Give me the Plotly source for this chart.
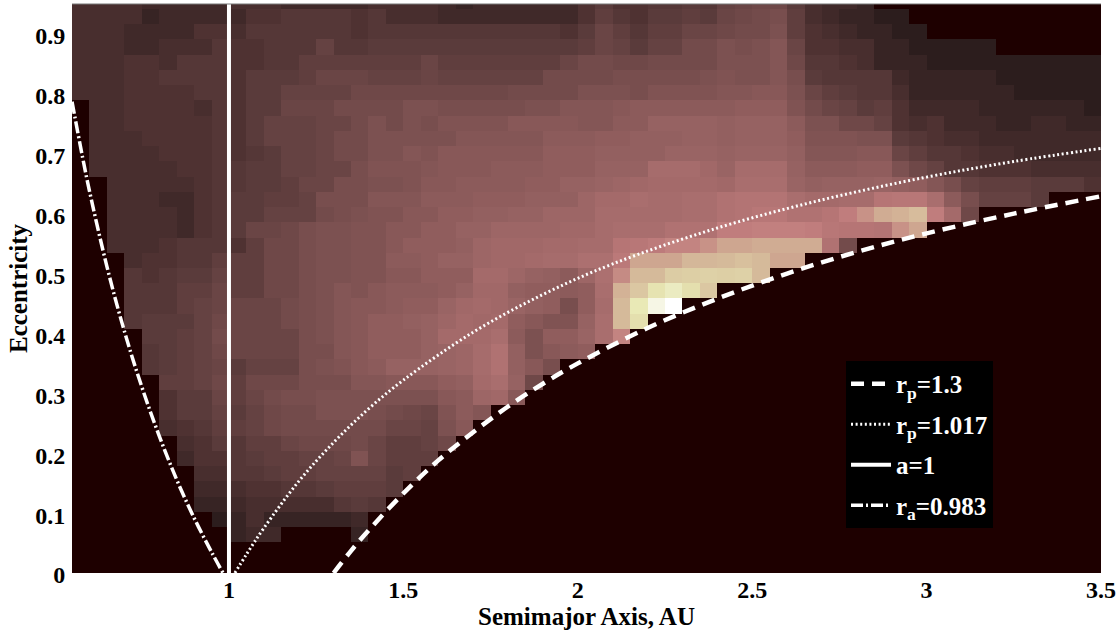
import numpy as np
import plotly.graph_objects as go

# column and row steps of the grid
A_START, A_STEP, N_COLS = 0.55, 0.05, 59
E_STEP, N_ROWS = 0.02545, 38

# cell levels (0-100), one list per row, top row first; trailing zeros left out
R37 = [5,5,5,5,4,4,4,4,4,5, 5,5,4,4,4,4,4,5,5,5, 5,4,3,4,4,4,4,4,4,6, 8,6,6,7,7,8,7,10,11,12, 12,8,5,4,4,3]
R36 = [5,5,5,5,3,4,4,4,4,4, 6,6,7,7,7,7,6,7,5,5, 5,4,4,4,4,4,4,4,4,6, 9,7,6,8,8,9,8,11,12,13, 14,9,5,4,3,3,2,2]
R35 = [5,5,5,4,4,4,4,6,6,5, 7,7,7,7,7,7,6,7,7,7, 7,7,7,7,7,7,7,7,6,8, 11,9,7,9,9,11,11,12,13,13, 15,9,6,5,4,3,3,2,2]
R34 = [5,5,5,4,4,5,5,5,7,6, 6,7,7,7,10,7,7,8,8,8, 8,8,8,8,8,8,8,8,8,9, 11,10,8,10,10,13,13,15,14,15, 17,11,6,6,5,5,3,3,2,2, 2,2,2]
R33 = [5,5,5,6,6,5,7,7,7,6, 6,7,7,9,9,9,9,9,9,9, 11,9,9,9,9,9,9,9,11,13, 13,12,12,13,13,13,13,15,15,15, 17,12,7,7,6,5,3,3,3,2, 2,2,2,2,2,2,2,2,2]
R32 = [5,5,5,6,6,7,7,7,7,6, 8,8,8,9,11,11,11,10,10,10, 11,10,10,10,10,10,10,13,13,13, 13,14,14,14,14,14,15,16,15,15, 17,14,8,7,7,7,7,4,3,3, 3,3,3,2,2,2,2,2,2]
R31 = [5,5,5,6,6,6,6,7,7,6, 8,8,10,10,10,10,12,12,12,12, 12,12,12,12,12,13,13,13,13,15, 15,15,14,16,16,16,16,17,17,18, 18,15,11,9,8,7,7,5,3,3, 3,3,3,3,2,2,2,2,2]
R30 = [0,5,5,6,6,6,6,5,7,6, 8,8,11,11,11,13,13,13,13,15, 15,14,14,14,14,14,15,15,17,17, 17,18,19,19,19,19,19,19,20,20, 20,16,13,11,10,8,9,6,4,4, 4,4,3,3,3,3,3,3,2]
R29 = [0,5,5,6,6,6,6,6,7,6, 8,10,10,10,11,11,13,15,13,15, 14,16,16,16,16,18,18,18,18,17, 17,19,19,22,22,22,22,21,22,22, 22,19,15,15,12,12,10,6,5,6, 4,4,4,3,3,4,4,3,3]
R28 = [0,5,5,5,6,6,6,6,7,6, 8,10,10,10,11,13,13,15,15,15, 15,15,17,17,17,17,17,19,19,19, 20,20,21,21,21,22,22,21,22,22, 22,20,16,16,16,15,15,8,7,6, 5,5,4,4,4,4,4,4,4]
R27 = [0,5,5,5,5,6,6,6,7,6, 7,8,10,10,11,13,13,15,15,17, 16,18,18,18,18,18,18,20,20,20, 21,21,21,21,23,23,23,22,23,23, 23,21,17,17,17,18,18,11,9,7, 7,6,5,5,4,4,4,4,4]
R26 = [0,5,5,5,5,5,6,6,7,7, 8,8,10,10,11,11,14,16,16,16, 17,18,18,18,19,19,19,20,20,20, 22,22,22,27,27,27,25,23,27,27, 27,22,19,19,19,20,20,15,12,10, 7,7,6,6,6,5,5,5,5]
R25 = [0,0,5,5,5,5,5,6,7,7, 8,8,9,11,11,14,14,15,15,16, 18,18,19,19,19,19,20,20,22,22, 23,24,25,26,26,26,26,25,28,28, 28,23,21,22,22,22,23,21,20,17, 14,10,9,9,9,8,8,8,6]
R24 = [0,0,5,5,5,4,4,6,7,8, 8,9,9,10,14,14,14,17,17,17, 19,19,19,20,20,20,21,21,21,24, 26,26,28,27,27,28,28,30,31,31, 31,28,26,26,27,27,32,33,33,28, 19,14,10,10,10,8]
R23 = [0,0,5,5,5,5,4,6,7,8, 8,10,10,10,13,14,15,16,16,18, 18,20,20,21,21,22,22,24,24,24, 27,27,27,27,27,28,28,30,31,33, 33,30,30,32,36,42,50,52,56,36, 26,12]
R22 = [0,0,5,5,5,5,4,6,7,8, 11,11,12,14,15,15,16,16,18,18, 20,20,22,22,24,24,24,24,25,25, 27,28,28,28,30,30,30,36,36,37, 37,37,36,33,32,32,31,42,48]
R21 = [0,0,5,5,5,6,7,7,7,6, 9,12,12,14,15,15,16,16,18,20, 20,20,21,24,25,25,25,26,26,27, 27,32,33,35,38,38,42,48,48,50, 50,50,50,30,13]
R20 = [0,0,0,5,6,6,7,7,9,9, 9,12,12,14,15,15,16,16,19,19, 20,22,22,24,25,25,26,27,27,29, 29,34,48,48,48,54,54,55,57,55, 48,48]
R19 = [0,0,0,7,6,7,8,8,10,9, 9,12,12,14,15,15,16,16,18,18, 20,20,20,26,26,24,22,21,19,24, 29,40,55,55,62,63,64,63,64,55]
R18 = [0,0,0,7,7,7,9,9,11,9, 9,12,12,14,15,17,16,18,19,19, 19,20,22,25,25,21,20,20,19,20, 28,52,60,72,78,70,60]
R17 = [0,0,0,7,7,7,9,10,11,11, 11,11,13,14,15,17,18,18,19,20, 20,23,25,26,25,23,21,20,14,20, 27,55,75,90,100]
R16 = [0,0,0,7,8,8,8,10,12,11, 11,11,13,14,15,17,18,20,20,21, 22,24,26,25,26,20,18,16,16,22, 28,55,70]
R15 = [0,0,0,0,8,8,9,10,13,11, 11,11,11,14,15,17,18,20,20,20, 22,26,26,26,28,19,15,20,20,23, 28,38]
R14 = [0,0,0,0,7,8,9,10,12,11, 11,11,11,14,14,17,18,20,20,20, 22,23,24,27,30,21,15,18,19,20]
R13 = [0,0,0,0,7,8,9,10,11,8, 10,10,10,14,15,16,18,19,22,22, 22,23,24,27,30,21,18,14]
R12 = [0,0,0,0,0,9,9,10,12,9, 12,12,12,14,14,14,17,17,18,18, 18,20,21,26,28,22,12]
R11 = [0,0,0,0,0,6,8,8,11,9, 11,13,14,14,15,15,15,15,15,15, 15,18,19,24,25,18]
R10 = [0,0,0,0,0,6,8,8,10,8, 10,12,13,13,15,15,15,14,13,12, 11,16,19,17]
R09 = [0,0,0,0,0,5,6,7,9,9, 10,12,13,13,13,13,13,13,11,11, 10,15,18]
R08 = [0,0,0,0,0,0,5,6,8,7, 9,9,11,12,12,12,13,11,9,9, 10,12]
R07 = [0,0,0,0,0,0,4,6,6,7, 8,9,9,10,10,11,16,11,9,9, 9]
R06 = [0,0,0,0,0,0,0,5,5,7, 7,8,9,9,10,10,10,10,8,9]
R05 = [0,0,0,0,0,0,0,4,4,5, 6,6,7,7,8,9,9,9,8]
R04 = [0,0,0,0,0,0,0,3,3,4, 5,5,5,5,5,7,8,7]
R03 = [0,0,0,0,0,0,0,0,2,3, 5,3,3,3,3,3,4]
R02 = [0,0,0,0,0,0,0,0,0,3, 4,4,0,0,0,0,3]
R01 = []
R00 = []

ROWS_TOP_FIRST = [R37,R36,R35,R34,R33,R32,R31,R30,R29,R28,R27,R26,R25,R24,R23,R22,R21,R20,R19,
                  R18,R17,R16,R15,R14,R13,R12,R11,R10,R09,R08,R07,R06,R05,R04,R03,R02,R01,R00]

# curves
RP13_A = [1.30,1.35,1.40,1.50,1.60,1.70,1.80,1.90,2.00,2.20,2.40,2.60,2.80,3.00,3.25,3.50]
RP13_E = [0.000,0.037,0.071,0.133,0.188,0.235,0.278,0.316,0.350,0.409,0.458,0.500,0.536,0.567,0.600,0.629]
RP10_A = [1.017,1.05,1.10,1.20,1.30,1.40,1.50,1.70,1.90,2.10,2.40,2.70,3.00,3.25,3.50]
RP10_E = [0.000,0.031,0.075,0.153,0.218,0.274,0.322,0.402,0.465,0.516,0.576,0.623,0.661,0.687,0.709]
A1_A = [1, 1]
A1_E = [0, 0.95]
RA_A = [0.55,0.58,0.60,0.65,0.70,0.75,0.80,0.85,0.90,0.95,0.983]
RA_E = [0.787,0.695,0.638,0.512,0.404,0.311,0.229,0.156,0.092,0.035,0.000]

X_TICKS = [1, 1.5, 2, 2.5, 3, 3.5]
X_TICK_TEXT = ["1", "1.5", "2", "2.5", "3", "3.5"]
Y_TICKS = [0, 0.1, 0.2, 0.3, 0.4, 0.5, 0.6, 0.7, 0.8, 0.9]
Y_TICK_TEXT = ["0", "0.1", "0.2", "0.3", "0.4", "0.5", "0.6", "0.7", "0.8", "0.9"]


def pink_stops(n=64):
    stops = []
    for t in np.linspace(0, 1, n):
        hr = min(1.0, t / 0.365)
        hg = min(1.0, max(0.0, (t - 0.365) / 0.375))
        hb = min(1.0, max(0.0, (t - 0.74) / 0.26))
        c = [np.sqrt((2 * t + h) / 3) for h in (hr, hg, hb)]
        if t == 0:
            c = [0.118, 0.0, 0.0]
        stops.append([float(t), "rgb(%d,%d,%d)" % tuple(round(255 * v) for v in c)])
    return stops


rows = [r + [0] * (N_COLS - len(r)) for r in ROWS_TOP_FIRST[::-1]]
assert all(len(r) == N_COLS for r in rows)
z = np.array(rows, dtype=float)
x_edges = A_START + A_STEP * np.arange(N_COLS + 1)
y_edges = E_STEP * np.arange(N_ROWS + 1)

FONT = "Liberation Serif"
fig = go.Figure()
fig.add_trace(go.Heatmap(x=x_edges, y=y_edges, z=z, zmin=0, zmax=100, colorscale=pink_stops(),
                         showscale=False, hoverinfo="skip"))

line_traces = [
    (RP13_A, RP13_E, "r<sub>p</sub>=1.3", dict(width=4.5, dash="13px,8px")),
    (RP10_A, RP10_E, "r<sub>p</sub>=1.017", dict(width=3, dash="2px,2.6px")),
    (A1_A, A1_E, "a=1", dict(width=4)),
    (RA_A, RA_E, "r<sub>a</sub>=0.983", dict(width=3.5, dash="12px,3px,2px,3px")),
]
for xs, ys, name, style in line_traces:
    fig.add_trace(go.Scatter(x=xs, y=ys, mode="lines", name=name, legendgroup=name,
                             line=dict(color="white", shape="spline", **style)))

tick_font = dict(family=FONT, size=24, color="black", weight=700)
title_font = dict(family=FONT, size=25, color="black", weight=700)
fig.update_layout(
    width=1120, height=631, autosize=False,
    paper_bgcolor="white", plot_bgcolor="#1e0000",
    margin=dict(l=72, r=19, t=4, b=58, pad=0),
    font=dict(family=FONT, weight=700),
    xaxis=dict(range=[0.55, 3.5], tickvals=X_TICKS, ticktext=X_TICK_TEXT, showgrid=False, zeroline=False,
               ticks="", tickfont=tick_font,
               title=dict(text="Semimajor Axis, AU", font=title_font, standoff=0), showline=False),
    yaxis=dict(range=[0, 0.95], tickvals=Y_TICKS, ticktext=Y_TICK_TEXT, showgrid=False, zeroline=False,
               ticks="outside", ticklen=1, tickcolor="rgba(0,0,0,0)", tickfont=tick_font, ticklabelshift=2,
               title=dict(text="Eccentricity", font=title_font, standoff=0), showline=False),
    legend=dict(x=0.7522, y=0.3726, xanchor="left", yanchor="top", bgcolor="black", borderwidth=0,
                font=dict(family=FONT, size=25, color="white", weight=700), itemwidth=40,
                tracegroupgap=5),
    showlegend=True,
    shapes=[dict(type="line", xref="paper", yref="paper", x0=0, x1=1, y0=1, y1=1,
                 line=dict(color="#777777", width=1))],
)
fig.write_html("out.html", post_script="document.body.style.margin='0';",
               config={"displayModeBar": False})
